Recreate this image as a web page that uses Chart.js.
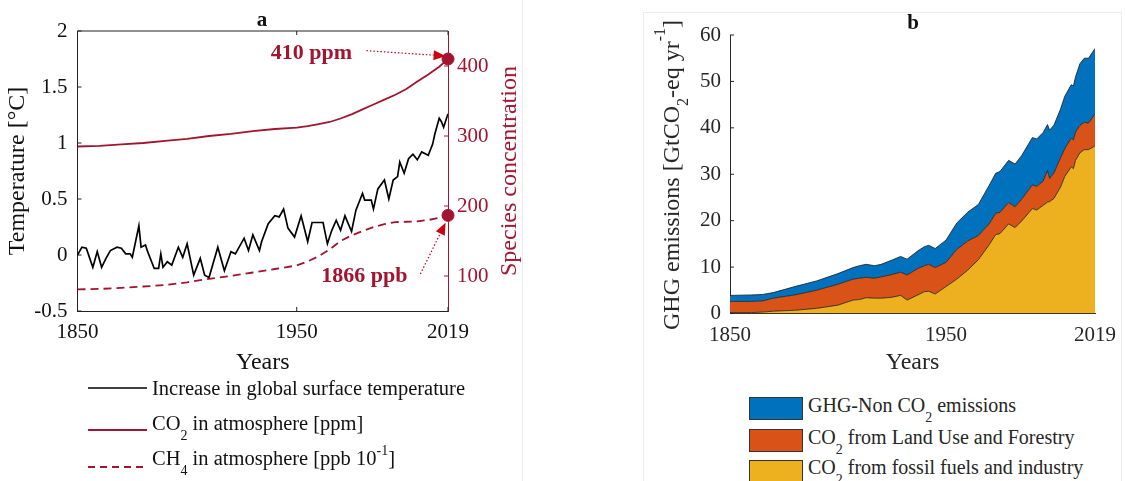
<!DOCTYPE html>
<html>
<head>
<meta charset="utf-8">
<script src="https://cdn.jsdelivr.net/npm/chart.js@4.4.0/dist/chart.umd.min.js"></script>
<style>
  html, body { margin: 0; padding: 0; background: #fff; }
  body { width: 1125px; height: 481px; position: relative; overflow: hidden;
         font-family: "Liberation Serif", "Times New Roman", serif; color: #111; }
  canvas { position: absolute; top: 0; }
  #tempChart { left: 0; }
  #emisChart { left: 560px; }
  .abs { position: absolute; white-space: nowrap; font-size: 20.5px; line-height: 20.5px; }
  .rot { position: absolute; white-space: nowrap; font-size: 24px; line-height: 24px;
         transform: translate(-50%, -50%) rotate(-90deg); }
  .sub, .sup { line-height: 0; font-size: 14px; }
  .sub { vertical-align: -10px; }
  .sup { vertical-align: 10px; }
  .panel { position: absolute; font-weight: bold; font-size: 21px; line-height: 21px; transform: translateX(-50%); }
  .swatch { position: absolute; width: 54px; height: 23px; border: 1px solid #333; box-sizing: border-box; }
  .frame { position: absolute; border-color: #ececec; border-style: solid; border-width: 0; }
</style>
</head>
<body>
<div class="frame" style="left:522px; top:0; height:481px; border-left-width:1px;"></div>
<div class="frame" style="left:643px; top:12px; width:477px; height:470px; border-width:1px 1px 0 1px;"></div>

<canvas id="tempChart" width="525" height="380"></canvas>
<canvas id="emisChart" width="565" height="380"></canvas>

<div class="panel" style="left:262px; top:9px;">a</div>
<div class="panel" style="left:913px; top:12px;">b</div>

<div class="rot" style="left:508px; top:171px; color:#a2142f;">Species concentration</div>
<div class="rot" style="left:671px; top:175px; color:#262626;">GHG emissions [GtCO<span class="sub" style="font-size:16px; vertical-align:-9px;">2</span>-eq yr<span class="sup" style="font-size:16px; vertical-align:14px;">-1</span>]</div>

<!-- legend a -->
<svg class="abs" style="left:88px; top:383px;" width="60" height="90">
  <line x1="0" y1="5" x2="59" y2="5" stroke="#000" stroke-width="1.6"/>
  <line x1="0" y1="47" x2="59" y2="47" stroke="#a2142f" stroke-width="1.8"/>
  <line x1="0" y1="84" x2="59" y2="84" stroke="#a2142f" stroke-width="1.8" stroke-dasharray="7,5"/>
</svg>
<div class="abs" style="left:152px; top:378px;">Increase in global surface temperature</div>
<div class="abs" style="left:152px; top:413px;">CO<span class="sub">2</span> in atmosphere [ppm]</div>
<div class="abs" style="left:152px; top:448px;">CH<span class="sub">4</span> in atmosphere [ppb 10<span class="sup">-1</span>]</div>

<!-- legend b -->
<div class="swatch" style="left:749px; top:397px; background:#0072bd;"></div>
<div class="swatch" style="left:749px; top:429px; background:#d95319;"></div>
<div class="swatch" style="left:749px; top:460px; background:#edb120;"></div>
<div class="abs" style="left:808px; top:395px; font-size:20px; color:#262626;">GHG-Non CO<span class="sub">2</span> emissions</div>
<div class="abs" style="left:808px; top:426.5px; font-size:20px; color:#262626;">CO<span class="sub">2</span> from Land Use and Forestry</div>
<div class="abs" style="left:808px; top:457px; font-size:20px; color:#262626;">CO<span class="sub">2</span> from fossil fuels and industry</div>

<script>
// ---- panel a: temperature anomaly [°C]
const tempYears = [1850, 1852, 1854, 1857, 1859, 1861, 1863, 1865, 1868, 1870, 1872, 1874, 1875, 1878, 1879,
  1881, 1882, 1885, 1887, 1888, 1889, 1891, 1893, 1896, 1898, 1900, 1903, 1906, 1908, 1910, 1914, 1917,
  1920, 1922, 1926, 1928, 1930, 1933, 1934, 1937, 1940, 1942, 1944, 1946, 1949, 1952, 1955, 1957, 1959,
  1962, 1964, 1966, 1968, 1970, 1972, 1975, 1977, 1980, 1981, 1984, 1985, 1987, 1990, 1992, 1994, 1996,
  1997, 1999, 2001, 2003, 2005, 2007, 2010, 2012, 2013, 2015, 2016, 2017, 2019];
const tempValues = [0.00, 0.07, 0.06, -0.11, 0.03, -0.11, -0.03, 0.04, 0.07, 0.06, 0.01, 0.01, -0.02, 0.26, 0.07,
  0.09, 0.03, -0.12, -0.12, 0.01, -0.11, -0.06, -0.09, 0.07, -0.02, 0.10, -0.18, -0.03, -0.18, -0.20, 0.07, -0.14,
  0.03, 0.01, 0.15, 0.04, 0.18, 0.04, 0.12, 0.28, 0.35, 0.34, 0.41, 0.24, 0.16, 0.35, 0.12, 0.29, 0.29,
  0.29, 0.10, 0.22, 0.31, 0.22, 0.35, 0.21, 0.40, 0.55, 0.49, 0.49, 0.41, 0.59, 0.67, 0.50, 0.67, 0.70,
  0.83, 0.73, 0.86, 0.90, 0.85, 0.92, 0.89, 0.99, 1.08, 1.22, 1.19, 1.14, 1.26];

// CO2 [ppm] and CH4 [ppb / 10]
const gasYears  = [1850, 1860, 1870, 1880, 1890, 1900, 1910, 1920, 1930, 1940, 1950, 1955, 1960, 1965, 1970,
  1975, 1980, 1985, 1990, 1995, 2000, 2005, 2010, 2015, 2019];
const co2Values = [285, 286, 288, 290, 293, 296, 300, 303, 307, 310, 312, 314, 317, 320, 325,
  331, 338, 345, 352, 359, 367, 378, 388, 399, 410];
const ch4Values = [80.8, 81.5, 83, 85, 87, 91, 96, 100, 105, 110, 115, 121, 128, 138, 150,
  158, 164, 170, 174, 177, 177.5, 178, 180, 183, 186.6];
const latestYear = 2019;
const co2Latest = 410;
const ch4Latest = 186.6;

// ---- panel b: GHG emissions [GtCO2-eq / yr]
const emisYears = [1850, 1860, 1865, 1870, 1880, 1890, 1900, 1907, 1910, 1913, 1917, 1920, 1925, 1929, 1932,
  1937, 1940, 1942, 1945, 1950, 1955, 1960, 1965, 1970, 1973, 1975, 1979, 1982, 1985, 1990, 1992, 1995,
  1997, 1998, 2000, 2003, 2005, 2008, 2009, 2010, 2012, 2014, 2016, 2019];
const fossilValues = [0.2, 0.2, 0.3, 0.5, 0.7, 1.1, 1.8, 2.9, 3.0, 3.4, 3.3, 3.3, 3.5, 3.9, 2.9,
  4.0, 4.7, 4.8, 4.2, 5.8, 7.4, 9.3, 11.6, 14.8, 17.0, 17.2, 19.3, 18.5, 19.9, 22.6, 22.3, 23.3,
  24.0, 24.1, 24.8, 27.2, 29.5, 31.6, 31.2, 33.0, 34.6, 35.3, 35.3, 36.1];
const landUseValues = [2.4, 2.4, 2.4, 2.8, 3.3, 3.9, 4.5, 4.5, 4.6, 4.4, 4.3, 4.6, 4.9, 5.0, 5.4,
  5.7, 5.6, 5.8, 5.7, 5.2, 6.4, 6.3, 5.2, 4.5, 4.6, 4.6, 4.6, 4.5, 4.7, 5.1, 5.1, 5.2,
  6.8, 5.0, 5.5, 6.3, 6.0, 6.2, 6.2, 6.1, 5.9, 5.9, 5.7, 6.9];
const nonCo2Values = [1.3, 1.4, 1.4, 1.2, 1.8, 2.0, 2.3, 2.5, 2.7, 2.8, 2.7, 2.7, 3.1, 3.4, 3.4,
  3.8, 4.1, 4.1, 4.1, 4.8, 5.7, 6.2, 6.7, 8.3, 8.6, 8.8, 9.1, 9.2, 9.4, 10.2, 10.2, 10.5,
  9.9, 10.4, 10.3, 10.5, 11.3, 11.5, 11.6, 11.9, 13.3, 13.8, 14.0, 14.1];

// ticks
const yearTicks = [1850, 1950, 2019];
const tempTicks = [-0.5, 0, 0.5, 1, 1.5, 2];
const concTicks = [100, 200, 300, 400];
const emisTicks = [0, 10, 20, 30, 40, 50, 60];

const CRIMSON = '#a2142f';
const ARROW = '#cc0011';
const TICK = 4;
const SERIF = '"Liberation Serif", "Times New Roman", serif';

Chart.defaults.font.family = SERIF;
Chart.defaults.animation = false;

const toPoints = (xs, ys) => xs.map((x, i) => ({x: x, y: ys[i]}));
const fixTicks = list => scale => { scale.ticks = list.map(v => ({value: v})); };
const plain = v => String(v);

// where the callouts of panel a sit, in data units (x: year, y: concentration axis)
const callouts = [
  {text: '410 ppm',  at: [1956.7, 418.6], from: [1981.8, 421.9], to: [2017.9, 414.3]},
  {text: '1866 ppb', at: [1980.9, 100.0], from: [2006.4, 102.9], to: [2017.9, 176.1]}
];

function inwardTicks(specs, topColor) {
    return {
        id: 'inwardTicks',
        afterDraw(chart) {
            const {ctx, chartArea: a} = chart;
            ctx.save();
            ctx.lineWidth = 1;
            specs.forEach(spec => {
                const s = chart.scales[spec.axis];
                ctx.strokeStyle = spec.color;
                ctx.beginPath();
                s.ticks.forEach(t => {
                    const p = s.getPixelForValue(t.value);
                    spec.sides.forEach(side => {
                        if (side === 'left')   { ctx.moveTo(a.left, p);  ctx.lineTo(a.left + TICK, p); }
                        if (side === 'right')  { ctx.moveTo(a.right, p); ctx.lineTo(a.right - TICK, p); }
                        if (side === 'bottom') { ctx.moveTo(p, a.bottom); ctx.lineTo(p, a.bottom - TICK); }
                        if (side === 'top')    { ctx.moveTo(p, a.top);    ctx.lineTo(p, a.top + TICK); }
                    });
                });
                ctx.stroke();
            });
            if (topColor) {
                ctx.strokeStyle = topColor;
                ctx.beginPath();
                ctx.moveTo(a.left, a.top);
                ctx.lineTo(a.right, a.top);
                ctx.stroke();
            }
            ctx.restore();
        }
    };
}

const calloutPlugin = {
    id: 'callouts',
    afterDatasetsDraw(chart) {
        const {ctx} = chart;
        const sx = chart.scales.x, sy = chart.scales.y1;
        const px = p => [sx.getPixelForValue(p[0]), sy.getPixelForValue(p[1])];
        ctx.save();
        callouts.forEach(c => {
            const [x0, y0] = px(c.from), [x1, y1] = px(c.to);
            const ang = Math.atan2(y1 - y0, x1 - x0);
            const head = 12, half = 5;
            const bx = x1 - head * Math.cos(ang), by = y1 - head * Math.sin(ang);
            ctx.strokeStyle = ARROW;
            ctx.fillStyle = ARROW;
            ctx.lineWidth = 1.2;
            ctx.setLineDash([1.5, 2]);
            ctx.beginPath();
            ctx.moveTo(x0, y0);
            ctx.lineTo(bx, by);
            ctx.stroke();
            ctx.setLineDash([]);
            ctx.beginPath();
            ctx.moveTo(x1, y1);
            ctx.lineTo(bx - half * Math.sin(ang), by + half * Math.cos(ang));
            ctx.lineTo(bx + half * Math.sin(ang), by - half * Math.cos(ang));
            ctx.closePath();
            ctx.fill();

            const [tx, ty] = px(c.at);
            ctx.font = 'bold 22px ' + SERIF;
            ctx.fillStyle = CRIMSON;
            ctx.textAlign = 'center';
            ctx.textBaseline = 'middle';
            ctx.fillText(c.text, tx, ty);
        });
        ctx.restore();
    }
};

const tempChart = new Chart(document.getElementById('tempChart'), {
    type: 'line',
    data: {
        datasets: [{
            label: 'Increase in global surface temperature',
            data: toPoints(tempYears, tempValues),
            borderColor: '#000',
            borderWidth: 1.7,
            yAxisID: 'y'
        }, {
            label: 'CO2 in atmosphere [ppm]',
            data: toPoints(gasYears, co2Values),
            borderColor: CRIMSON,
            borderWidth: 1.8,
            yAxisID: 'y1'
        }, {
            label: 'CH4 in atmosphere [ppb 10^-1]',
            data: toPoints(gasYears, ch4Values),
            borderColor: CRIMSON,
            borderWidth: 1.8,
            borderDash: [8, 5],
            yAxisID: 'y1'
        }, {
            label: 'latest',
            data: [{x: latestYear, y: co2Latest}, {x: latestYear, y: ch4Latest}],
            showLine: false,
            pointRadius: 6,
            pointBackgroundColor: CRIMSON,
            pointBorderColor: CRIMSON,
            clip: false,
            order: -1,
            yAxisID: 'y1'
        }]
    },
    plugins: [inwardTicks([
        {axis: 'x', sides: ['bottom', 'top'], color: '#222'},
        {axis: 'y', sides: ['left'], color: '#222'},
        {axis: 'y1', sides: ['right'], color: CRIMSON}
    ], '#222'), calloutPlugin],
    options: {
        responsive: false,
        layout: {padding: {top: 31, left: 0, right: 0, bottom: 0}},
        elements: {point: {radius: 0}, line: {tension: 0}},
        plugins: {legend: {display: false}, tooltip: {enabled: false}},
        scales: {
            x: {
                type: 'linear', min: 1850, max: 2019,
                grid: {display: false, drawTicks: false},
                border: {display: true, color: '#222', width: 1},
                ticks: {padding: 9, color: '#111', font: {size: 21}, maxRotation: 0, autoSkip: false, callback: plain},
                afterBuildTicks: fixTicks(yearTicks),
                afterFit: s => { s.height = 69; },
                title: {display: true, text: 'Years', color: '#111', font: {size: 24}, padding: {top: 0, bottom: 3}}
            },
            y: {
                type: 'linear', position: 'left', min: -0.5, max: 2,
                grid: {display: false, drawTicks: false},
                border: {display: true, color: '#222', width: 1},
                ticks: {padding: 10, color: '#111', font: {size: 21}, callback: plain},
                afterBuildTicks: fixTicks(tempTicks),
                afterFit: s => { s.width = 77.5; },
                title: {display: true, text: 'Temperature [°C]', color: '#111', font: {size: 24}, padding: {top: 3, bottom: 0}}
            },
            y1: {
                type: 'linear', position: 'right', min: 50, max: 450,
                grid: {display: false, drawTicks: false},
                border: {display: true, color: CRIMSON, width: 1},
                ticks: {padding: 9, color: CRIMSON, font: {size: 21}, callback: plain},
                afterBuildTicks: fixTicks(concTicks),
                afterFit: s => { s.width = 77; }
            }
        }
    }
});

const emisChart = new Chart(document.getElementById('emisChart'), {
    type: 'line',
    data: {
        datasets: [{
            label: 'CO2 from fossil fuels and industry',
            data: toPoints(emisYears, fossilValues),
            backgroundColor: '#edb120',
            fill: 'origin'
        }, {
            label: 'CO2 from Land Use and Forestry',
            data: toPoints(emisYears, landUseValues),
            backgroundColor: '#d95319',
            fill: '-1'
        }, {
            label: 'GHG-Non CO2 emissions',
            data: toPoints(emisYears, nonCo2Values),
            backgroundColor: '#0072bd',
            fill: '-1'
        }]
    },
    plugins: [inwardTicks([{axis: 'y', sides: ['left'], color: '#262626'}], null)],
    options: {
        responsive: false,
        layout: {padding: {top: 35, left: 0, right: 25, bottom: 0}},
        elements: {point: {radius: 0}, line: {tension: 0, borderColor: '#1a1a1a', borderWidth: 0.8}},
        plugins: {legend: {display: false}, tooltip: {enabled: false}, filler: {propagate: false}},
        scales: {
            x: {
                type: 'linear', min: 1850, max: 2019,
                grid: {display: false, drawTicks: false},
                border: {display: true, color: '#262626', width: 1},
                ticks: {padding: 9, color: '#262626', font: {size: 21}, maxRotation: 0, autoSkip: false, callback: plain},
                afterBuildTicks: fixTicks(yearTicks),
                afterFit: s => { s.height = 66.5; },
                title: {display: true, text: 'Years', color: '#262626', font: {size: 24}, padding: {top: 0, bottom: 3}}
            },
            y: {
                type: 'linear', position: 'left', min: 0, max: 60, stacked: true,
                grid: {display: false, drawTicks: false},
                border: {display: true, color: '#262626', width: 1},
                ticks: {padding: 9, color: '#262626', font: {size: 21}, callback: plain},
                afterBuildTicks: fixTicks(emisTicks),
                afterFit: s => { s.width = 170; }
            }
        }
    }
});
</script>
</body>
</html>
